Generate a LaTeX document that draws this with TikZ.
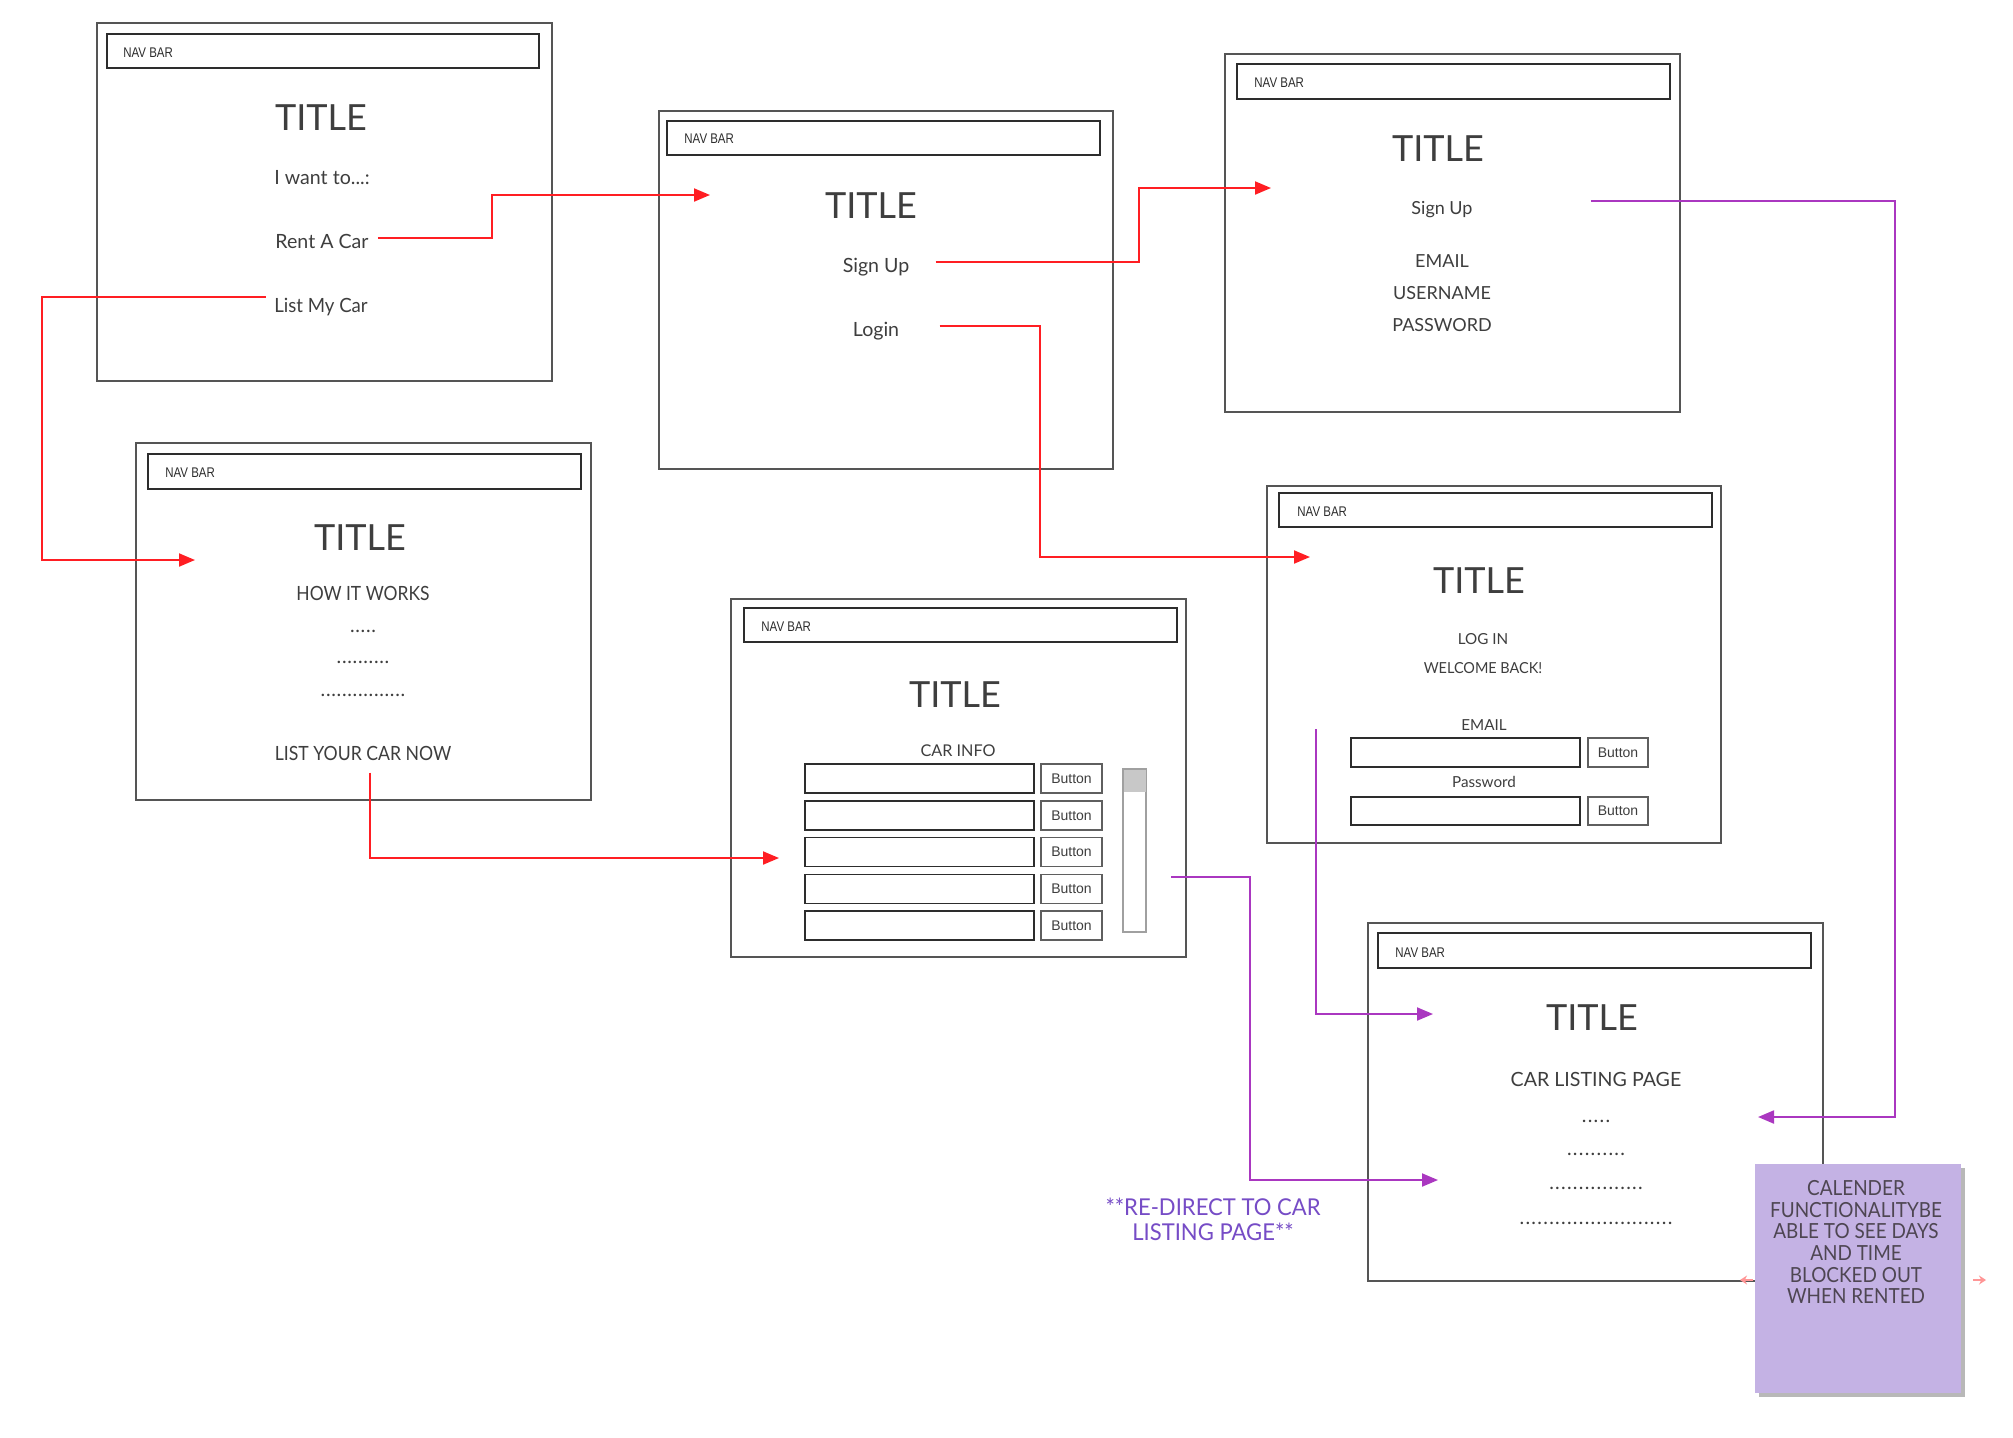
\documentclass[tikz,border=0pt]{standalone}
\usepackage{fontspec}
\setmainfont{Lato}
\newfontfamily\navfont[FakeStretch=0.82]{Liberation Sans}
\newfontfamily\btnfont{Liberation Sans}
\usetikzlibrary{arrows.meta,calc,shadows}
\definecolor{txt}{RGB}{62,62,62}
\definecolor{boxc}{RGB}{85,85,85}
\definecolor{navc}{RGB}{45,45,45}
\definecolor{btnc}{RGB}{95,95,95}
\definecolor{redline}{RGB}{255,30,35}
\definecolor{purline}{RGB}{170,55,192}
\definecolor{purtxt}{RGB}{118,76,198}
\definecolor{notefill}{RGB}{196,178,228}
\definecolor{notetxtc}{RGB}{78,70,82}
\definecolor{pinkc}{RGB}{255,150,150}
\definecolor{scrollc}{RGB}{160,160,160}
\definecolor{thumbc}{RGB}{200,200,200}
\newcommand\dda{.\kern0.35pt}
\newcommand\ddb{.\kern0.65pt}
\newcommand\narrow[2]{\scalebox{#1}[1]{#2}}
\begin{document}
\begin{tikzpicture}[x=0.5pt,y=-0.5pt,
  screen/.style={draw=boxc, line width=0.75pt, fill=white},
  navbox/.style={draw=navc, line width=0.8pt},
  field/.style={draw=navc, line width=0.8pt},
  btn/.style={draw=btnc, line width=0.8pt},
  navtxt/.style={font=\navfont\fontsize{7}{8}\selectfont, text=navc, anchor=base west, inner sep=0},
  ttl/.style={font=\fontsize{18}{20}\selectfont, text=txt, anchor=base, inner sep=0},
  bodytxt/.style={font=\fontsize{9.8}{11}\selectfont, text=txt, anchor=base, inner sep=0},
  midtxt/.style={font=\fontsize{9}{10}\selectfont, text=txt, anchor=base, inner sep=0},
  smalltxt/.style={font=\fontsize{7.6}{9}\selectfont, text=txt, anchor=base, inner sep=0},
  btntxt/.style={font=\btnfont\fontsize{7}{8}\selectfont, text=txt, inner sep=0},
  notetxt/.style={font=\fontsize{10.4}{11}\selectfont, text=notetxtc, anchor=base, inner sep=0},
  redirtxt/.style={font=\fontsize{11.6}{12}\selectfont, text=purtxt, anchor=base, inner sep=0},
  redarrow/.style={draw=redline, line width=1pt, -{Triangle[length=8pt,width=6.5pt]}},
  purarrow/.style={draw=purline, line width=1pt, -{Triangle[length=8pt,width=6.5pt]}},
  handle/.style={draw=pinkc, line width=0.9pt, -{Stealth[length=3.5pt,width=4.5pt]}}
]
\fill[white] (0,0) rectangle (2013,1437);
\useasboundingbox (0,0) rectangle (2013,1437);

% ---------- Screen 1: landing ----------
\draw[screen] (97,23) rectangle (552,381);
\draw[navbox] (107,34) rectangle (539,68);
\node[navtxt] (nav1) at (123,57) {NAV BAR};
\node[ttl] (title1) at (321,130) {TITLE};
\node[bodytxt] (want) at (322,184) {I want to...:};
\node[bodytxt] (rent) at (322,248) {Rent A Car};
\node[bodytxt] (list) at (321,312) {\narrow{0.95}{List My Car}};

% ---------- Screen 2: sign up / login choice ----------
\draw[screen] (659,111) rectangle (1113,469);
\draw[navbox] (667,121) rectangle (1100,155);
\node[navtxt] (nav2) at (684,143) {NAV BAR};
\node[ttl] (title2) at (871,218) {TITLE};
\node[bodytxt] (signup2) at (876,272) {Sign Up};
\node[bodytxt] (login2) at (876,336) {Login};

% ---------- Screen 3: sign up form ----------
\draw[screen] (1225,54) rectangle (1680,412);
\draw[navbox] (1237,64) rectangle (1670,99);
\node[navtxt] (nav3) at (1254,87) {NAV BAR};
\node[ttl] (title3) at (1438,161) {TITLE};
\node[midtxt] (signup3) at (1442,214) {Sign Up};
\node[midtxt] (email3) at (1442,267) {EMAIL};
\node[midtxt] (user3) at (1442,299) {USERNAME};
\node[midtxt] (pass3) at (1442,331) {PASSWORD};

% ---------- Screen 4: how it works ----------
\draw[screen] (136,443) rectangle (591,800);
\draw[navbox] (148,454) rectangle (581,489);
\node[navtxt] (nav4) at (165,477) {NAV BAR};
\node[ttl] (title4) at (360,550) {TITLE};
\node[bodytxt] (how) at (363,600) {\narrow{0.89}{HOW IT WORKS}};
\node[bodytxt] (dots4a) at (363,632) {\dda\dda\dda\dda.};
\node[bodytxt] (dots4b) at (363,663) {\dda\dda\dda\dda\dda\dda\dda\dda\dda.};
\node[bodytxt] (dots4c) at (363,696) {\dda\dda\dda\dda\dda\dda\dda\dda\dda\dda\dda\dda\dda\dda\dda.};
\node[bodytxt] (listnow) at (363,760) {\narrow{0.9}{LIST YOUR CAR NOW}};

% ---------- Screen 5: car info ----------
\draw[screen] (731,599) rectangle (1186,957);
\draw[navbox] (744,608) rectangle (1177,642);
\node[navtxt] (nav5) at (761,631) {NAV BAR};
\node[ttl] (title5) at (955,707) {TITLE};
\node[smalltxt, font=\fontsize{8.1}{9}\selectfont] (carinfo) at (958,756) {CAR INFO};
\foreach \i/\nm in {0/a,1/b,2/c,3/d,4/e} {
  \pgfmathsetmacro\yt{764+36.8*\i}
  \draw[field] (805,\yt) rectangle (1034,\yt+29);
  \draw[btn] (1041,\yt) rectangle (1102,\yt+29);
  \node[btntxt] (btn\nm) at (1071.5,\yt+14.5) {Button};
}
\draw[draw=scrollc, line width=0.8pt, fill=white] (1123,769) rectangle (1146,932);
\fill[thumbc] (1123.5,769.5) rectangle (1145.5,792);

% ---------- Screen 6: login ----------
\draw[screen] (1267,486) rectangle (1721,843);
\draw[navbox] (1279,493) rectangle (1712,527);
\node[navtxt] (nav6) at (1297,516) {NAV BAR};
\node[ttl] (title6) at (1479,593) {TITLE};
\node[smalltxt] (loginlbl) at (1483,644) {LOG IN};
\node[smalltxt] (welcome) at (1483,673) {\narrow{0.95}{WELCOME BACK!}};
\node[smalltxt] (email6) at (1484,730) {EMAIL};
\draw[field] (1351,738) rectangle (1580,767);
\draw[btn] (1588,738) rectangle (1648,767);
\node[btntxt] (btnf) at (1618,752.5) {Button};
\node[smalltxt] (pass6) at (1484,787) {Password};
\draw[field] (1351,797) rectangle (1580,825);
\draw[btn] (1588,797) rectangle (1648,825);
\node[btntxt] (btng) at (1618,811) {Button};

% ---------- Screen 7: car listing ----------
\draw[screen] (1368,923) rectangle (1823,1281);
\draw[navbox] (1378,933) rectangle (1811,968);
\node[navtxt] (nav7) at (1395,957) {NAV BAR};
\node[ttl] (title7) at (1592,1030) {TITLE};
\node[bodytxt] (listing) at (1596,1086) {CAR LISTING PAGE};
\node[bodytxt] (dots7a) at (1596,1122) {\ddb\ddb\ddb\ddb.};
\node[bodytxt] (dots7b) at (1596,1155) {\ddb\ddb\ddb\ddb\ddb\ddb\ddb\ddb\ddb.};
\node[bodytxt] (dots7c) at (1596,1189) {\ddb\ddb\ddb\ddb\ddb\ddb\ddb\ddb\ddb\ddb\ddb\ddb\ddb\ddb\ddb.};
\node[bodytxt] (dots7d) at (1596,1224) {\ddb\ddb\ddb\ddb\ddb\ddb\ddb\ddb\ddb\ddb\ddb\ddb\ddb\ddb\ddb\ddb\ddb\ddb\ddb\ddb\ddb\ddb\ddb\ddb\ddb.};

% ---------- connectors ----------
\coordinate (t1) at (710,195);
\coordinate (t2) at (195,560);
\coordinate (t3) at (1271,188);
\coordinate (t4) at (1310,557);
\coordinate (t5) at (779,858);
\coordinate (t6) at (1758,1117);
\coordinate (s7) at (1316,729);
\coordinate (t7) at (1433,1014);
\coordinate (s8) at (1171,877);
\coordinate (t8) at (1438,1180);

\draw[redarrow] ([xshift=4.5pt,yshift=1.5pt]rent.east) -| ($(t1)+(-218,0)$) -- (t1);
\draw[redarrow] ([xshift=-4pt,yshift=5pt]list.west) -| ($(t2)+(-153,0)$) -- (t2);
\draw[redarrow] ([xshift=13pt,yshift=2.1pt]signup2.east) -| ($(t3)+(-132,0)$) -- (t3);
\draw[redarrow] ([xshift=20pt,yshift=2.1pt]login2.east) -| ($(t4)+(-270,0)$) -- (t4);
\draw[redarrow] ([xshift=3.5pt,yshift=-6pt]listnow.south) |- (t5);
\draw[purarrow] ([xshift=59pt,yshift=4pt]signup3.east) -| ($(t6)+(137,0)$) -- (t6);
\draw[purarrow] (s7) |- (t7);
\draw[purarrow] (s8) -| ($(t8)+(-188,0)$) -- (t8);

% ---------- redirect note ----------
\node[redirtxt] (redir1) at (1213,1215) {\narrow{0.95}{**RE-DIRECT TO CAR}};
\node[redirtxt] (redir2) at (1213,1240) {\narrow{0.95}{LISTING PAGE**}};

% ---------- sticky note ----------
\draw[handle] (1753,1280) -- (1740,1280);
\draw[handle] (1973,1280) -- (1986,1280);
\node[fill=notefill, draw=none, minimum width=103pt, minimum height=114.5pt, anchor=north west, inner sep=0,
      drop shadow={shadow xshift=1.8pt, shadow yshift=-2pt, fill=black, opacity=0.28}] (note) at (1755,1164) {};
\node[notetxt] (n1) at (1856,1195) {\narrow{0.91}{CALENDER}};
\node[notetxt] (n2) at (1856,1217) {\narrow{0.91}{FUNCTIONALITYBE}};
\node[notetxt] (n3) at (1856,1238) {\narrow{0.91}{ABLE TO SEE DAYS}};
\node[notetxt] (n4) at (1856,1260) {\narrow{0.91}{AND TIME}};
\node[notetxt] (n5) at (1856,1282) {\narrow{0.91}{BLOCKED OUT}};
\node[notetxt] (n6) at (1856,1303) {\narrow{0.91}{WHEN RENTED}};
\end{tikzpicture}
\end{document}
